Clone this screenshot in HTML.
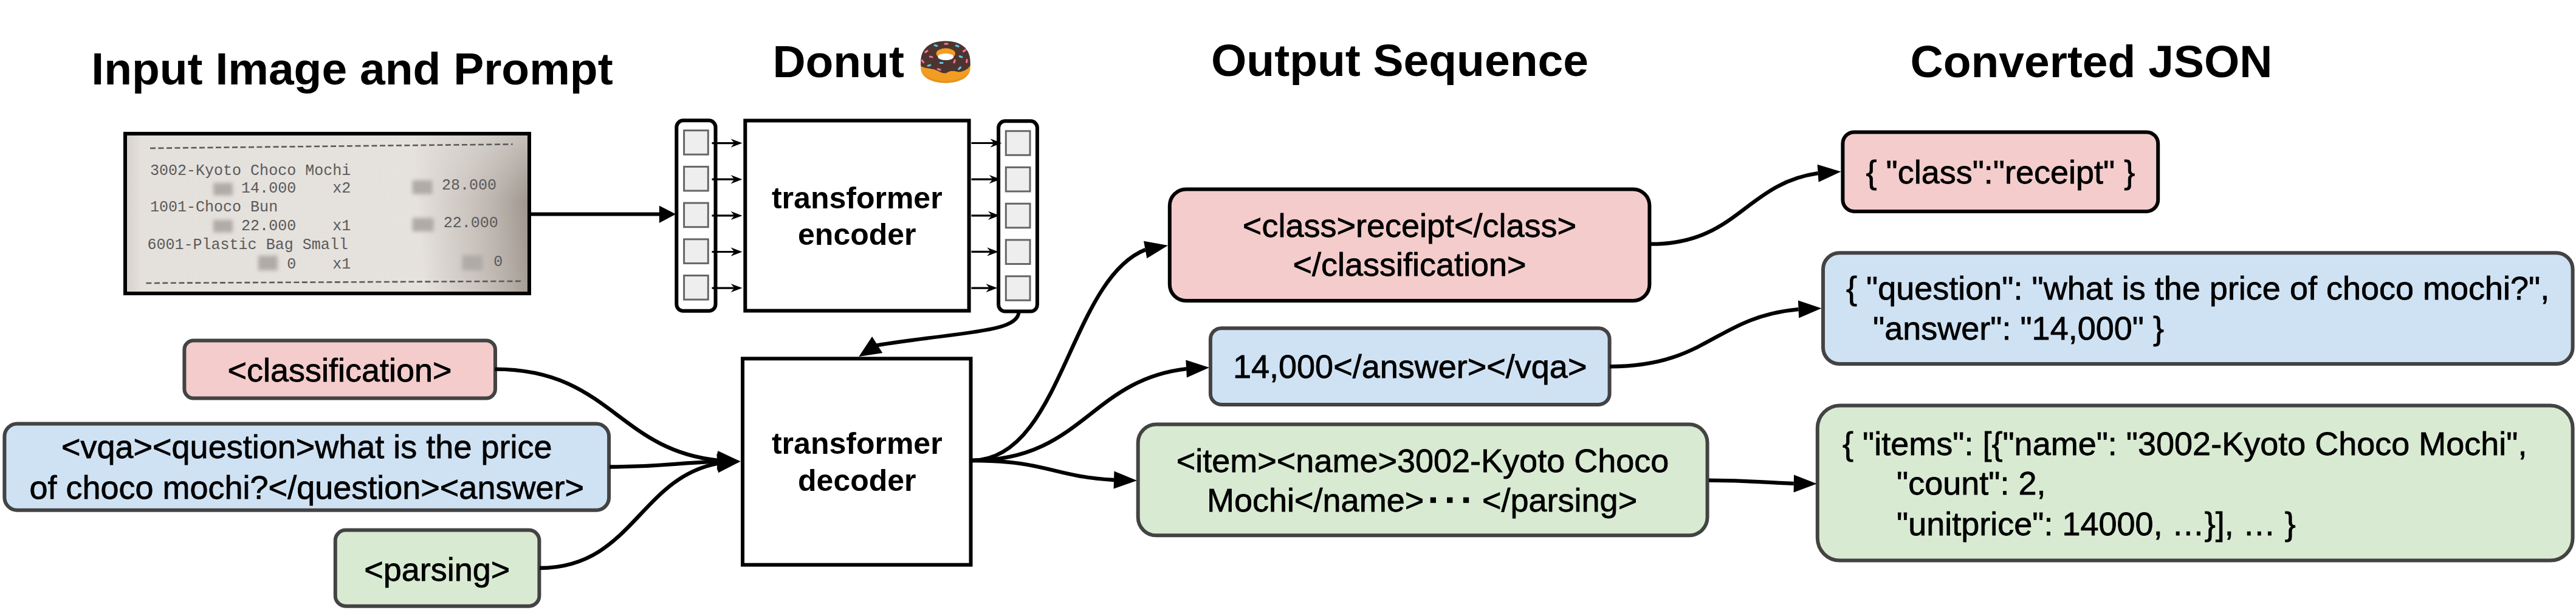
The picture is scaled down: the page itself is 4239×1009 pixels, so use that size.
<!DOCTYPE html>
<html><head><meta charset="utf-8"><style>
html,body{margin:0;padding:0;background:#fff;width:4239px;height:1009px;overflow:hidden}
svg{display:block}
text{font-family:"Liberation Sans",sans-serif}
</style></head><body>
<svg width="4239" height="1009" viewBox="0 0 4239 1009">
<rect width="4239" height="1009" fill="#fff"/>
<text x="150.3" y="139.0" font-size="75" text-anchor="start" font-weight="bold" fill="#000" xml:space="preserve">Input Image and Prompt</text>
<text x="1271.4" y="126.8" font-size="75" text-anchor="start" font-weight="bold" fill="#000" xml:space="preserve">Donut</text>
<text x="1993.0" y="125.2" font-size="75" text-anchor="start" font-weight="bold" fill="#000" xml:space="preserve">Output Sequence</text>
<text x="3143.5" y="127.1" font-size="75" text-anchor="start" font-weight="bold" fill="#000" xml:space="preserve">Converted JSON</text>
<defs>
<linearGradient id="rsh" gradientUnits="userSpaceOnUse" x1="690" y1="360" x2="868" y2="345">
<stop offset="0" stop-color="#b5ada6" stop-opacity="0"/>
<stop offset="0.45" stop-color="#bbb3ac" stop-opacity="0.6"/>
<stop offset="0.8" stop-color="#b0a8a1" stop-opacity="0.95"/>
<stop offset="1" stop-color="#a0978f" stop-opacity="1"/></linearGradient>
<radialGradient id="rhi" gradientUnits="userSpaceOnUse" cx="770" cy="232" r="70" fx="770" fy="232">
<stop offset="0" stop-color="#f0ede9" stop-opacity="0.9"/><stop offset="1" stop-color="#f0ede9" stop-opacity="0"/></radialGradient>
<linearGradient id="rl" x1="0" y1="0" x2="1" y2="0">
<stop offset="0" stop-color="#d6d1cc"/><stop offset="0.04" stop-color="#e4e0dc"/><stop offset="1" stop-color="#e6e2de"/></linearGradient>
<linearGradient id="tfg" gradientUnits="userSpaceOnUse" x1="0" y1="223" x2="0" y2="330"><stop offset="0" stop-color="#fff" stop-opacity="0.45"/><stop offset="1" stop-color="#fff" stop-opacity="1"/></linearGradient>
<mask id="tfm" maskUnits="userSpaceOnUse" x="200" y="215" width="680" height="275"><rect x="200" y="215" width="680" height="275" fill="url(#tfg)"/></mask>
<filter id="bl" x="-60%" y="-60%" width="220%" height="220%"><feGaussianBlur stdDeviation="3.2"/></filter>
<pattern id="dotp" patternUnits="userSpaceOnUse" width="3" height="3"><rect width="2.2" height="2.2" fill="#fff"/></pattern>
<mask id="dotm" maskUnits="userSpaceOnUse" x="200" y="215" width="680" height="275"><rect x="200" y="215" width="680" height="275" fill="url(#dotp)"/></mask>
</defs>
<rect x="206.0" y="220.0" width="665.0" height="263.0" rx="0.0" fill="url(#rl)" stroke="#000" stroke-width="6"/>
<rect x="209" y="223" width="659" height="257" fill="url(#rsh)" mask="url(#tfm)"/>
<line x1="247" y1="244" x2="843.6" y2="237.4" stroke="#5a5a5a" stroke-width="2.6" stroke-dasharray="9,4.5"/>
<line x1="240.4" y1="466" x2="859.8" y2="462.8" stroke="#5a5a5a" stroke-width="2.6" stroke-dasharray="9,4.5"/>
<g>
<text x="247.1" y="288.1" style="font-family:'Liberation Mono',monospace" font-size="25" fill="#5a5a5a" xml:space="preserve">3002-Kyoto Choco Mochi</text>
<text x="247.1" y="317.2" style="font-family:'Liberation Mono',monospace" font-size="25" fill="#5a5a5a" xml:space="preserve">          14.000    x2</text>
<text x="247.1" y="348.2" style="font-family:'Liberation Mono',monospace" font-size="25" fill="#5a5a5a" xml:space="preserve">1001-Choco Bun</text>
<text x="247.1" y="378.7" style="font-family:'Liberation Mono',monospace" font-size="25" fill="#5a5a5a" xml:space="preserve">          22.000    x1</text>
<text x="242.6" y="410" style="font-family:'Liberation Mono',monospace" font-size="25" fill="#5a5a5a" xml:space="preserve">6001-Plastic Bag Small</text>
<text x="247.1" y="441.5" style="font-family:'Liberation Mono',monospace" font-size="25" fill="#5a5a5a" xml:space="preserve">               0    x1</text>
<text x="727" y="311.5" style="font-family:'Liberation Mono',monospace" font-size="25" fill="#5a5a5a" xml:space="preserve">28.000</text>
<text x="729.7" y="374.3" style="font-family:'Liberation Mono',monospace" font-size="25" fill="#5a5a5a" xml:space="preserve">22.000</text>
<text x="812.2" y="438" style="font-family:'Liberation Mono',monospace" font-size="25" fill="#5a5a5a" xml:space="preserve">0</text>
</g>
<rect x="351.2" y="301.2" width="31.700000000000003" height="20.4" fill="#b0aba7" filter="url(#bl)"/>
<rect x="678.6" y="296.8" width="33" height="22.7" fill="#b0aba7" filter="url(#bl)"/>
<rect x="351" y="362" width="32" height="20.4" fill="#b0aba7" filter="url(#bl)"/>
<rect x="678.6" y="358.7" width="35.2" height="22.3" fill="#b0aba7" filter="url(#bl)"/>
<rect x="425" y="421" width="31.799999999999997" height="24" fill="#b0aba7" filter="url(#bl)"/>
<rect x="760.7" y="420" width="34" height="25" fill="#b0aba7" filter="url(#bl)"/>
<line x1="870" y1="352.5" x2="1090" y2="352.5" stroke="#000" stroke-width="6"/>
<polygon points="1112.2,352.5 1084.8,338.5 1084.8,367" fill="#000"/>
<rect x="1113.3" y="198.3" width="64.2" height="313.5" rx="11.0" fill="#fff" stroke="#000" stroke-width="6"/>
<rect x="1125.6" y="214.7" width="39.7" height="39.6" rx="0.0" fill="#eeeeee" stroke="#666666" stroke-width="3"/>
<rect x="1125.6" y="274.4" width="39.7" height="39.6" rx="0.0" fill="#eeeeee" stroke="#666666" stroke-width="3"/>
<rect x="1125.6" y="334.1" width="39.7" height="39.6" rx="0.0" fill="#eeeeee" stroke="#666666" stroke-width="3"/>
<rect x="1125.6" y="393.8" width="39.7" height="39.6" rx="0.0" fill="#eeeeee" stroke="#666666" stroke-width="3"/>
<rect x="1125.6" y="453.5" width="39.7" height="39.6" rx="0.0" fill="#eeeeee" stroke="#666666" stroke-width="3"/>
<rect x="1643.1" y="199.3" width="63.8" height="313.3" rx="11.0" fill="#fff" stroke="#000" stroke-width="6"/>
<rect x="1655.3" y="215.7" width="39.7" height="39.6" rx="0.0" fill="#eeeeee" stroke="#666666" stroke-width="3"/>
<rect x="1655.3" y="275.4" width="39.7" height="39.6" rx="0.0" fill="#eeeeee" stroke="#666666" stroke-width="3"/>
<rect x="1655.3" y="335.2" width="39.7" height="39.6" rx="0.0" fill="#eeeeee" stroke="#666666" stroke-width="3"/>
<rect x="1655.3" y="394.9" width="39.7" height="39.6" rx="0.0" fill="#eeeeee" stroke="#666666" stroke-width="3"/>
<rect x="1655.3" y="454.7" width="39.7" height="39.6" rx="0.0" fill="#eeeeee" stroke="#666666" stroke-width="3"/>
<line x1="1171.5" y1="235.6" x2="1213.5" y2="235.6" stroke="#000" stroke-width="3.2"/>
<polygon points="1221.5,235.6 1202.5,228.4 1208.5,235.6 1202.5,242.8" fill="#000"/>
<line x1="1171.5" y1="295.2" x2="1213.5" y2="295.2" stroke="#000" stroke-width="3.2"/>
<polygon points="1221.5,295.2 1202.5,288.0 1208.5,295.2 1202.5,302.4" fill="#000"/>
<line x1="1171.5" y1="354.9" x2="1213.5" y2="354.9" stroke="#000" stroke-width="3.2"/>
<polygon points="1221.5,354.9 1202.5,347.7 1208.5,354.9 1202.5,362.1" fill="#000"/>
<line x1="1171.5" y1="414.5" x2="1213.5" y2="414.5" stroke="#000" stroke-width="3.2"/>
<polygon points="1221.5,414.5 1202.5,407.3 1208.5,414.5 1202.5,421.7" fill="#000"/>
<line x1="1171.5" y1="474.1" x2="1213.5" y2="474.1" stroke="#000" stroke-width="3.2"/>
<polygon points="1221.5,474.1 1202.5,466.9 1208.5,474.1 1202.5,481.3" fill="#000"/>
<line x1="1598.5" y1="235.5" x2="1640.5" y2="235.5" stroke="#000" stroke-width="3.2"/>
<polygon points="1648.5,235.5 1629.5,228.3 1635.5,235.5 1629.5,242.7" fill="#000"/>
<line x1="1598.5" y1="295.1" x2="1638.7" y2="295.1" stroke="#000" stroke-width="3.2"/>
<polygon points="1646.7,295.1 1627.7,287.9 1633.7,295.1 1627.7,302.3" fill="#000"/>
<line x1="1598.5" y1="354.8" x2="1636.9" y2="354.8" stroke="#000" stroke-width="3.2"/>
<polygon points="1644.9,354.8 1625.9,347.6 1631.9,354.8 1625.9,362.0" fill="#000"/>
<line x1="1598.5" y1="414.4" x2="1635.1" y2="414.4" stroke="#000" stroke-width="3.2"/>
<polygon points="1643.1,414.4 1624.1,407.2 1630.1,414.4 1624.1,421.6" fill="#000"/>
<line x1="1598.5" y1="474.1" x2="1633.3" y2="474.1" stroke="#000" stroke-width="3.2"/>
<polygon points="1641.3,474.1 1622.3,466.9 1628.3,474.1 1622.3,481.3" fill="#000"/>
<rect x="1226.3" y="198.5" width="368.3" height="313.0" rx="0.0" fill="#fff" stroke="#000" stroke-width="6"/>
<text x="1410.3" y="343.0" font-size="50" text-anchor="middle" font-weight="bold" fill="#000" xml:space="preserve">transformer</text>
<text x="1410.3" y="403.0" font-size="50" text-anchor="middle" font-weight="bold" fill="#000" xml:space="preserve">encoder</text>
<rect x="1222.0" y="590.3" width="375.5" height="339.4" rx="0.0" fill="#fff" stroke="#000" stroke-width="6"/>
<text x="1410.3" y="747.3" font-size="50" text-anchor="middle" font-weight="bold" fill="#000" xml:space="preserve">transformer</text>
<text x="1410.3" y="807.9" font-size="50" text-anchor="middle" font-weight="bold" fill="#000" xml:space="preserve">decoder</text>
<path d="M1676.5,513 C1676,548 1580,546 1442,568.5" fill="none" stroke="#000" stroke-width="6"/>
<polygon points="1413.3,586.9 1435.1,554.1 1452.3,581.1" fill="#000"/>
<rect x="303.4" y="560.4" width="511.6" height="95.1" rx="15.0" fill="#f4cccc" stroke="#434343" stroke-width="6"/>
<text x="559.0" y="628.0" font-size="54" text-anchor="middle" font-weight="normal" fill="#000" stroke="#000" stroke-width="0.8" xml:space="preserve">&lt;classification&gt;</text>
<rect x="7.4" y="697.4" width="994.7" height="142.3" rx="21.0" fill="#cfe2f3" stroke="#434343" stroke-width="6"/>
<text x="504.7" y="754.4" font-size="54" text-anchor="middle" font-weight="normal" fill="#000" stroke="#000" stroke-width="0.8" xml:space="preserve">&lt;vqa&gt;&lt;question&gt;what is the price</text>
<text x="504.7" y="820.6" font-size="54" text-anchor="middle" font-weight="normal" fill="#000" stroke="#000" stroke-width="0.8" xml:space="preserve">of choco mochi?&lt;/question&gt;&lt;answer&gt;</text>
<rect x="551.8" y="872.6" width="335.6" height="125.1" rx="17.0" fill="#d9ead3" stroke="#434343" stroke-width="6"/>
<text x="719.3" y="955.5" font-size="54" text-anchor="middle" font-weight="normal" fill="#000" stroke="#000" stroke-width="0.8" xml:space="preserve">&lt;parsing&gt;</text>
<path d="M814.4,607.7 C1002.9,607.7 1015.5,739.9 1180.5,757.6" fill="none" stroke="#000" stroke-width="6.3"/>
<polygon points="1218.5,759.5 1179.8,773.0 1181.3,742.1" fill="#000"/>
<path d="M1003.0,768.5 C1096.3,768.5 1108.8,761.7 1180.5,759.9" fill="none" stroke="#000" stroke-width="6.3"/>
<polygon points="1218.5,759.5 1180.7,775.4 1180.3,744.4" fill="#000"/>
<path d="M888.0,935.0 C1039.6,935.0 1052.1,787.4 1180.7,762.9" fill="none" stroke="#000" stroke-width="6.3"/>
<polygon points="1218.5,759.5 1182.0,778.3 1179.3,747.5" fill="#000"/>
<rect x="1924.8" y="311.5" width="789.6" height="183.6" rx="27.0" fill="#f4cccc" stroke="#000" stroke-width="6"/>
<text x="2319.5" y="389.5" font-size="54" text-anchor="middle" font-weight="normal" fill="#000" stroke="#000" stroke-width="0.8" xml:space="preserve">&lt;class&gt;receipt&lt;/class&gt;</text>
<text x="2319.5" y="454.3" font-size="54" text-anchor="middle" font-weight="normal" fill="#000" stroke="#000" stroke-width="0.8" xml:space="preserve">&lt;/classification&gt;</text>
<rect x="1991.9" y="540.2" width="656.7" height="125.8" rx="18.0" fill="#cfe2f3" stroke="#434343" stroke-width="6"/>
<text x="2320.2" y="622.0" font-size="54" text-anchor="middle" font-weight="normal" fill="#000" stroke="#000" stroke-width="0.8" xml:space="preserve">14,000&lt;/answer&gt;&lt;/vqa&gt;</text>
<rect x="1872.7" y="698.5" width="936.9" height="182.8" rx="30.0" fill="#d9ead3" stroke="#434343" stroke-width="6"/>
<text x="2341.0" y="777.0" font-size="54" text-anchor="middle" font-weight="normal" fill="#000" stroke="#000" stroke-width="0.8" xml:space="preserve">&lt;item&gt;&lt;name&gt;3002-Kyoto Choco</text>
<text x="1986.0" y="841.7" font-size="54" text-anchor="start" font-weight="normal" fill="#000" stroke="#000" stroke-width="0.8" xml:space="preserve">Mochi&lt;/name&gt;</text>
<rect x="2353.7" y="818.6" width="9.3" height="9.2" fill="#000"/>
<rect x="2381.1" y="818.6" width="9.3" height="9.2" fill="#000"/>
<rect x="2407.9" y="818.6" width="9.3" height="9.2" fill="#000"/>
<text x="2439.0" y="841.7" font-size="54" text-anchor="start" font-weight="normal" fill="#000" stroke="#000" stroke-width="0.8" xml:space="preserve">&lt;/parsing&gt;</text>
<path d="M1599.0,758.0 C1747.0,758.0 1759.4,460.8 1884.7,411.0" fill="none" stroke="#000" stroke-width="6.3"/>
<polygon points="1922.0,404.0 1887.3,425.3 1882.0,396.8" fill="#000"/>
<path d="M1599.0,758.0 C1781.0,758.0 1793.6,625.5 1952.1,607.1" fill="none" stroke="#000" stroke-width="6.3"/>
<polygon points="1990.0,605.0 1952.9,621.6 1951.3,592.6" fill="#000"/>
<path d="M1599.0,758.0 C1721.0,758.0 1733.6,784.6 1833.0,790.0" fill="none" stroke="#000" stroke-width="6.3"/>
<polygon points="1871.0,791.0 1832.6,804.5 1833.4,775.5" fill="#000"/>
<rect x="3032.4" y="217.4" width="518.8" height="130.5" rx="19.0" fill="#f4cccc" stroke="#000" stroke-width="6"/>
<text x="3291.9" y="301.8" font-size="54" text-anchor="middle" font-weight="normal" fill="#000" stroke="#000" stroke-width="0.8" xml:space="preserve">{ "class":"receipt" }</text>
<rect x="3000.0" y="416.2" width="1233.6" height="182.9" rx="27.0" fill="#cfe2f3" stroke="#434343" stroke-width="6"/>
<text x="3038.0" y="493.3" font-size="54" text-anchor="start" font-weight="normal" fill="#000" stroke="#000" stroke-width="0.8" xml:space="preserve">{ "question": "what is the price of choco mochi?",</text>
<text x="3037.0" y="558.9" font-size="54" text-anchor="start" font-weight="normal" fill="#000" stroke="#000" stroke-width="0.8" xml:space="preserve">   "answer": "14,000" }</text>
<rect x="2990.8" y="667.5" width="1242.8" height="255.1" rx="37.0" fill="#d9ead3" stroke="#434343" stroke-width="6"/>
<text x="3032.0" y="749.3" font-size="54" text-anchor="start" font-weight="normal" fill="#000" stroke="#000" stroke-width="0.8" xml:space="preserve">{ "items": [{"name": "3002-Kyoto Choco Mochi",</text>
<text x="3031.0" y="813.8" font-size="54" text-anchor="start" font-weight="normal" fill="#000" stroke="#000" stroke-width="0.8" xml:space="preserve">      "count": 2,</text>
<text x="3031.0" y="880.9" font-size="54" text-anchor="start" font-weight="normal" fill="#000" stroke="#000" stroke-width="0.8" xml:space="preserve">      "unitprice": 14000, …}], … }</text>
<path d="M2716.3,401.7 C2859.1,401.7 2871.7,302.6 2991.6,285.2" fill="none" stroke="#000" stroke-width="6.3"/>
<polygon points="3029.5,282.6 2992.6,299.7 2990.6,270.7" fill="#000"/>
<path d="M2649.1,603.3 C2809.6,603.3 2822.2,521.9 2959.5,509.1" fill="none" stroke="#000" stroke-width="6.3"/>
<polygon points="2997.5,507.4 2960.2,523.6 2958.9,494.6" fill="#000"/>
<path d="M2812.0,790.6 C2886.0,790.6 2898.4,794.6 2951.8,795.9" fill="none" stroke="#000" stroke-width="6.3"/>
<polygon points="2989.8,796.3 2951.6,810.4 2952.0,781.4" fill="#000"/>
<g transform="translate(1514.7,67.5)">
<path d="M0.5,36 L0.5,44 C0.5,61 19,69 41,69 C63,69 82,61 82,44 L82,36 Z" fill="#f29d22"/>
<path d="M2,50 C8,62 24,69 41,69 C58,69 74,62 80,50 C74,60 58,66 41,66 C24,66 8,60 2,50 Z" fill="#e0851a" opacity="0.6"/>
<path d="M0.5,34 C0.5,11 17,0 41,0 C65,0 82,11 82,34 L82,40.2 C80,43 78.8,44.7 76,46.5 C73,48.5 71,49.3 68,50 C65,51 63.2,51.3 60,50.5 C57,49.5 55.3,49.3 51,49.6 C48,49.8 46,51 43,52.5 C40.3,53.5 37,53 34.4,51.9 C31,50.4 27.3,48.7 24,47.2 C21.4,46.3 16,45.5 11,44.7 C6,43.8 2,42.5 0.5,41 Z" fill="#4e342e"/>
<ellipse cx="41.6" cy="20.6" rx="15.7" ry="8.8" fill="#f29d22"/>
<ellipse cx="41.6" cy="26" rx="13" ry="5.6" fill="#fff"/>
<rect x="38.8" y="3.1" width="7" height="3.2" rx="1.6" fill="#f06f9c" transform="rotate(0 42.3 4.7)"/>
<rect x="21.8" y="5.9" width="7" height="3.2" rx="1.6" fill="#5ac8f0" transform="rotate(15 25.3 7.5)"/>
<rect x="57.0" y="6.6" width="7" height="3.2" rx="1.6" fill="#5ac8f0" transform="rotate(20 60.5 8.2)"/>
<rect x="6.2" y="15.7" width="7" height="3.2" rx="1.6" fill="#f06f9c" transform="rotate(-35 9.7 17.3)"/>
<rect x="68.8" y="14.4" width="7" height="3.2" rx="1.6" fill="#f06f9c" transform="rotate(-35 72.3 16.0)"/>
<rect x="14.0" y="24.5" width="7" height="3.2" rx="1.6" fill="#f06f9c" transform="rotate(12 17.5 26.1)"/>
<rect x="62.9" y="24.2" width="7" height="3.2" rx="1.6" fill="#5ac8f0" transform="rotate(20 66.4 25.8)"/>
<rect x="0.3" y="32.0" width="7" height="3.2" rx="1.6" fill="#f06f9c" transform="rotate(55 3.8 33.6)"/>
<rect x="30.9" y="34.4" width="7" height="3.2" rx="1.6" fill="#5ac8f0" transform="rotate(0 34.4 36.0)"/>
<rect x="52.5" y="32.0" width="7" height="3.2" rx="1.6" fill="#f06f9c" transform="rotate(-70 56.0 33.6)"/>
<rect x="72.7" y="31.4" width="7" height="3.2" rx="1.6" fill="#f06f9c" transform="rotate(-85 76.2 33.0)"/>
<rect x="10.7" y="38.6" width="7" height="3.2" rx="1.6" fill="#5ac8f0" transform="rotate(-15 14.2 40.2)"/>
<rect x="27.0" y="45.1" width="7" height="3.2" rx="1.6" fill="#f06f9c" transform="rotate(20 30.5 46.7)"/>
<rect x="61.0" y="43.1" width="7" height="3.2" rx="1.6" fill="#5ac8f0" transform="rotate(-45 64.5 44.7)"/>
</g>
</svg></body></html>
